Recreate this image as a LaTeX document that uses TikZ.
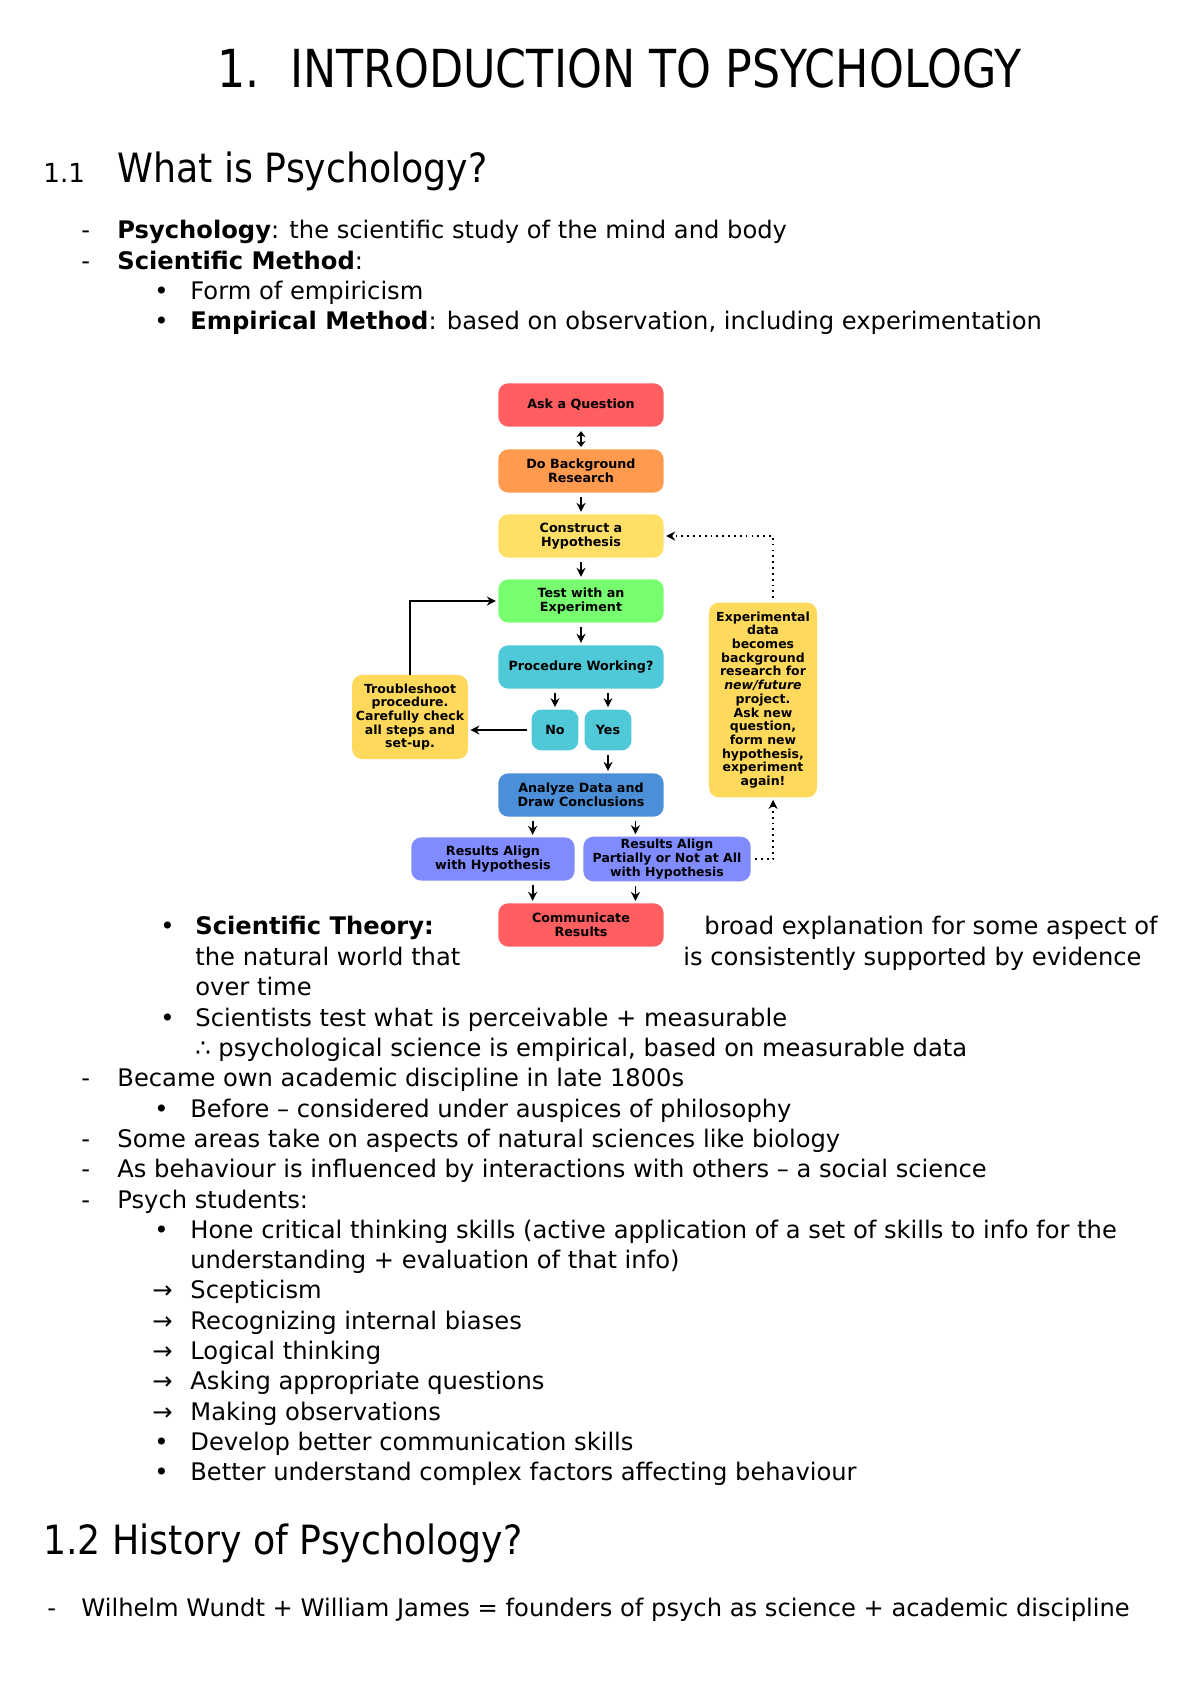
\documentclass[tikz,border=0pt]{standalone}
\usepackage{fontspec}
\setmainfont{DejaVu Sans}
\usetikzlibrary{arrows.meta}

\definecolor{askred}{HTML}{FF5E61}
\definecolor{bgorange}{HTML}{FF9A4F}
\definecolor{hypyellow}{HTML}{FFDF66}
\definecolor{testgreen}{HTML}{78FF70}
\definecolor{proccyan}{HTML}{4FC9D7}
\definecolor{anablue}{HTML}{4A8FD8}
\definecolor{resviolet}{HTML}{7F8BFF}
\definecolor{noteyellow}{HTML}{FFD95C}

\tikzset{
  stepbox/.style={rounded corners=5pt, minimum width=82pt, minimum height=21.5pt, inner sep=1pt, align=center, font=\fontsize{6.3}{7}\selectfont\bfseries},
  notebox/.style={stepbox, fill=noteyellow, font=\fontsize{6.2}{6.8}\selectfont\bfseries},
  txt/.style={anchor=base west, inner sep=0pt, font=\fontsize{12}{14}\selectfont},
  head/.style={txt, xscale=0.9, transform shape, font=\fontsize{20}{24}\selectfont},
  link/.style={-{Stealth[length=4.5pt,width=4.5pt]}, line width=0.9pt, shorten <=2pt, shorten >=1pt},
}

\begin{document}
\begin{tikzpicture}[x=0.49607pt, y=-0.49607pt]
\useasboundingbox (0,0) rectangle (1200,1698);

% headings
\node[head, xscale=0.94, font=\fontsize{26}{30}\selectfont] (titlenum) at (217,87) {1.};
\node[head, xscale=0.94, font=\fontsize{26}{30}\selectfont] (title) at (290,87) {INTRODUCTION TO PSYCHOLOGY};
\node[txt, font=\fontsize{13}{15}\selectfont] (secnum) at (43,182) {1.1};
\node[head] (sec) at (117,182) {What is Psychology?};

% first list
\node[txt] (d1) at (81,238) {-};
\node[txt] (l1) at (117,238) {\textbf{Psychology}: the scientific study of the mind and body};
\node[txt] (d2) at (81,269) {-};
\node[txt] (l2) at (117,269) {\textbf{Scientific Method}:};
\node[txt] (b1) at (154,299) {•};
\node[txt] (l3) at (190,299) {Form of empiricism};
\node[txt] (b2) at (154,329) {•};
\node[txt] (l4) at (190,329) {\textbf{Empirical Method}: based on observation, including experimentation};

% flowchart
\node[stepbox, fill=askred] (ask) at (581,405) {Ask a Question};
\node[stepbox, fill=bgorange] (bg) at (581,471) {Do Background\\Research};
\node[stepbox, fill=hypyellow] (hyp) at (581,536) {Construct a\\Hypothesis};
\node[stepbox, fill=testgreen] (test) at (581,601) {Test with an\\Experiment};
\node[stepbox, fill=proccyan] (proc) at (581,667) {Procedure Working?};
\node[stepbox, fill=proccyan, minimum width=23.3pt, minimum height=20.3pt] (no) at (555,730) {No};
\node[stepbox, fill=proccyan, minimum width=23.3pt, minimum height=20.3pt] (yes) at (608,730) {Yes};
\node[stepbox, fill=anablue] (ana) at (581,795) {Analyze Data and\\Draw Conclusions};
\node[stepbox, fill=resviolet, minimum width=81pt] (resL) at (493,859) {Results Align\\with Hypothesis};
\node[stepbox, fill=resviolet, minimum width=83pt, font=\fontsize{6.2}{6}\selectfont\bfseries] (resR) at (667,859) {Results Align\\Partially or Not at All\\with Hypothesis};
\node[stepbox, fill=askred] (comm) at (581,925) {Communicate\\Results};
\node[notebox, minimum width=57.5pt, minimum height=41.7pt] (trouble) at (410,717) {Troubleshoot\\procedure.\\Carefully check\\all steps and\\set-up.};
\node[notebox, minimum width=53.6pt, minimum height=96.7pt] (expt) at (763,700) {Experimental\\data\\becomes\\background\\research for\\\textit{new/future}\\project.\\Ask new\\question,\\form new\\hypothesis,\\experiment\\again!};

\draw[link, {Stealth[length=3pt,width=4.5pt]}-{Stealth[length=3pt,width=4.5pt]}] (ask) -- (bg);
\draw[link] (bg) -- (hyp);
\draw[link] (hyp) -- (test);
\draw[link] (test) -- (proc);
\draw[link] (proc.south -| no) -- (no);
\draw[link] (proc.south -| yes) -- (yes);
\draw[link] (no.west) -- (no.west -| trouble.east);
\draw[link, shorten <=0pt] (trouble.north) |- (test.west);
\draw[link] (yes) -- (yes |- ana.north);
\draw[link] ([xshift=-24pt]ana.south) -- ([xshift=-24pt]ana.south |- resL.north);
\draw[link] ([xshift=27pt]ana.south) -- ([xshift=27pt]ana.south |- resR.north);
\draw[link] ([xshift=-24pt]comm.north |- resL.south) -- ([xshift=-24pt]comm.north);
\draw[link] ([xshift=27pt]comm.north |- resR.south) -- ([xshift=27pt]comm.north);
\draw[link, dotted] (resR.east) -| ([xshift=5pt]expt.south);
\draw[link, dotted] ([xshift=5pt]expt.north) |- (hyp.east);

% text round the chart
\node[txt] (b3) at (160,934) {•};
\node[txt] (l5) at (195,934) {\textbf{Scientific Theory:}};
\node[txt] (l5r) at (704,934) {broad explanation for some aspect of};
\node[txt] (l6) at (195,965) {the natural world that};
\node[txt] (l6r) at (683,965) {is consistently supported by evidence};
\node[txt] (l7) at (195,995) {over time};
\node[txt] (b4) at (160,1026) {•};
\node[txt] (l8) at (195,1026) {Scientists test what is perceivable + measurable};
\node[txt] (l9) at (195,1056) {∴ psychological science is empirical, based on measurable data};

% second list
\node[txt] (d3) at (81,1086) {-};
\node[txt] (l10) at (117,1086) {Became own academic discipline in late 1800s};
\node[txt] (b5) at (154,1117) {•};
\node[txt] (l11) at (190,1117) {Before – considered under auspices of philosophy};
\node[txt] (d4) at (81,1147) {-};
\node[txt] (l12) at (117,1147) {Some areas take on aspects of natural sciences like biology};
\node[txt] (d5) at (81,1177) {-};
\node[txt] (l13) at (117,1177) {As behaviour is influenced by interactions with others – a social science};
\node[txt] (d6) at (81,1208) {-};
\node[txt] (l14) at (117,1208) {Psych students:};
\node[txt] (b6) at (154,1238) {•};
\node[txt] (l15) at (190,1238) {Hone critical thinking skills (active application of a set of skills to info for the};
\node[txt] (l16) at (190,1268) {understanding + evaluation of that info)};
\foreach \y/\t in {1298/Scepticism, 1329/Recognizing internal biases, 1359/Logical thinking, 1389/Asking appropriate questions, 1420/Making observations}
  {\node[txt] (a\y) at (152,\y) {→}; \node[txt] (s\y) at (190,\y) {\t};}
\node[txt] (b7) at (154,1450) {•};
\node[txt] (l17) at (190,1450) {Develop better communication skills};
\node[txt] (b8) at (154,1480) {•};
\node[txt] (l18) at (190,1480) {Better understand complex factors affecting behaviour};

% section 1.2
\node[head] (sec2) at (43,1554) {1.2 History of Psychology?};
\node[txt] (d7) at (47,1616) {-};
\node[txt] (l19) at (81,1616) {Wilhelm Wundt + William James = founders of psych as science + academic discipline};

\end{tikzpicture}
\end{document}
